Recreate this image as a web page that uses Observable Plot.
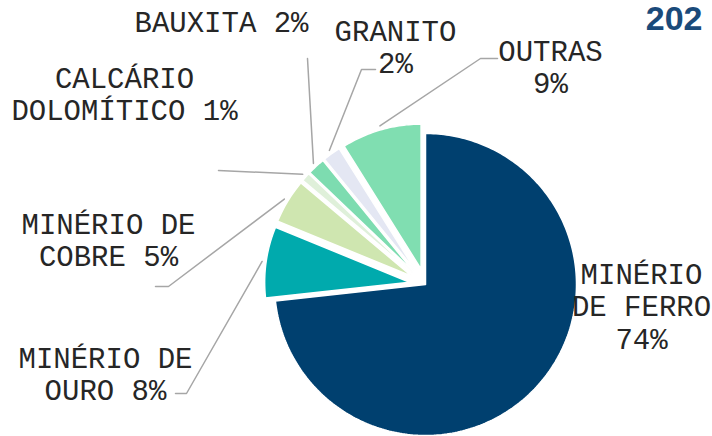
<!DOCTYPE html>
<html>
<head>
<meta charset="utf-8">
<script src="https://cdn.jsdelivr.net/npm/d3@7"></script>
<script src="https://cdn.jsdelivr.net/npm/@observablehq/plot@0.6"></script>
<style>
  html, body { margin: 0; padding: 0; background: #fff; }
  #chart { width: 712px; height: 436px; overflow: hidden; }
</style>
</head>
<body>
<div id="chart"></div>
<script>
// ---- data ----
const categories = ["MINÉRIO DE FERRO", "MINÉRIO DE OURO", "MINÉRIO DE COBRE", "CALCÁRIO DOLOMÍTICO", "BAUXITA", "GRANITO", "OUTRAS"];
const shares = [74, 8, 5, 1, 2, 2, 9];
const labelText = ["MINÉRIO\nDE FERRO\n74%", "MINÉRIO DE\nOURO 8%", "MINÉRIO DE\nCOBRE 5%", "CALCÁRIO\nDOLOMÍTICO 1%", "BAUXITA 2%", "GRANITO\n2%", "OUTRAS\n9%"];
const titleText = "202";

// ---- styles / layout ----
const colors = ["#00406F", "#00AAAD", "#CFE6B0", "#DFF0DA", "#7DDCB0", "#E4E7F3", "#80DEB1"];
const W = 712, H = 436;
const PIE = {cx: 425, cy: 284};
const explode = [0, 16, 16, 16, 16, 16, 16];
const radius = [151, 145, 145, 145, 145, 145, 145];
const FS = 29;
// label anchor: centre x and first-line baseline
const labelPos = [
  {x: 641, b: 281}, {x: 105, b: 365}, {x: 108, b: 231}, {x: 124, b: 85},
  {x: 221, b: 29}, {x: 395, b: 38}, {x: 550, b: 58}
];
// leader path after the slice point (elbow, end)
const leaderPath = [
  null,
  [[186, 393], [175, 393]],
  [[168, 286], [155, 286]],
  [[218, 170]],
  [[307, 58]],
  [[361, 69], [375, 69]],
  [[480, 58], [497, 58]]
];

// ---- geometry from data ----
const arcs = d3.pie().sort(null).value(d => d)(shares);
const slicePts = [];
const leaderPts = [];
arcs.forEach((a, i) => {
  const mid = (a.startAngle + a.endAngle) / 2;
  const off = explode[i], r = radius[i];
  const cx = PIE.cx + off * Math.sin(mid), cy = PIE.cy - off * Math.cos(mid);
  const name = categories[i];
  slicePts.push({name, x: cx, y: cy});
  const n = Math.max(2, Math.ceil((a.endAngle - a.startAngle) / (Math.PI / 180)));
  for (let k = 0; k <= n; k++) {
    const t = a.startAngle + (a.endAngle - a.startAngle) * k / n;
    slicePts.push({name, x: cx + r * Math.sin(t), y: cy - r * Math.cos(t)});
  }
  slicePts.push({name, x: cx, y: cy});
  if (leaderPath[i]) {
    const rr = r + 4;
    leaderPts.push({name, x: cx + rr * Math.sin(mid), y: cy - rr * Math.cos(mid)});
    leaderPath[i].forEach(([x, y]) => leaderPts.push({name, x, y}));
  }
});
const labels = categories.map((c, i) => ({name: c, text: labelText[i], x: labelPos[i].x, y: labelPos[i].b - 0.71 * FS}));

const chart = Plot.plot({
  width: W, height: H,
  margin: 0,
  x: {domain: [0, W], range: [0, W], axis: null},
  y: {domain: [0, H], range: [0, H], axis: null},
  color: {domain: categories, range: colors},
  style: {background: "#fff"},
  marks: [
    Plot.line(leaderPts, {x: "x", y: "y", z: "name", stroke: "#A6A6A6", strokeWidth: 1.5, curve: "linear"}),
    Plot.line(slicePts, {x: "x", y: "y", z: "name", fill: "name", stroke: "white", strokeWidth: 1.5, strokeLinejoin: "miter", curve: "linear"}),
    Plot.text(labels, {x: "x", y: "y", text: "text", fontFamily: "Liberation Mono", fontSize: FS, lineHeight: 1.12, lineAnchor: "top", textAnchor: "middle", fill: "#262626"}),
    Plot.text([titleText], {x: 702, y: 5, text: d => d, fontFamily: "Liberation Sans", fontWeight: "bold", fontSize: 34, lineAnchor: "top", textAnchor: "end", fill: "#1A4A7A"})
  ]
});
document.getElementById("chart").appendChild(chart);
</script>
</body>
</html>
